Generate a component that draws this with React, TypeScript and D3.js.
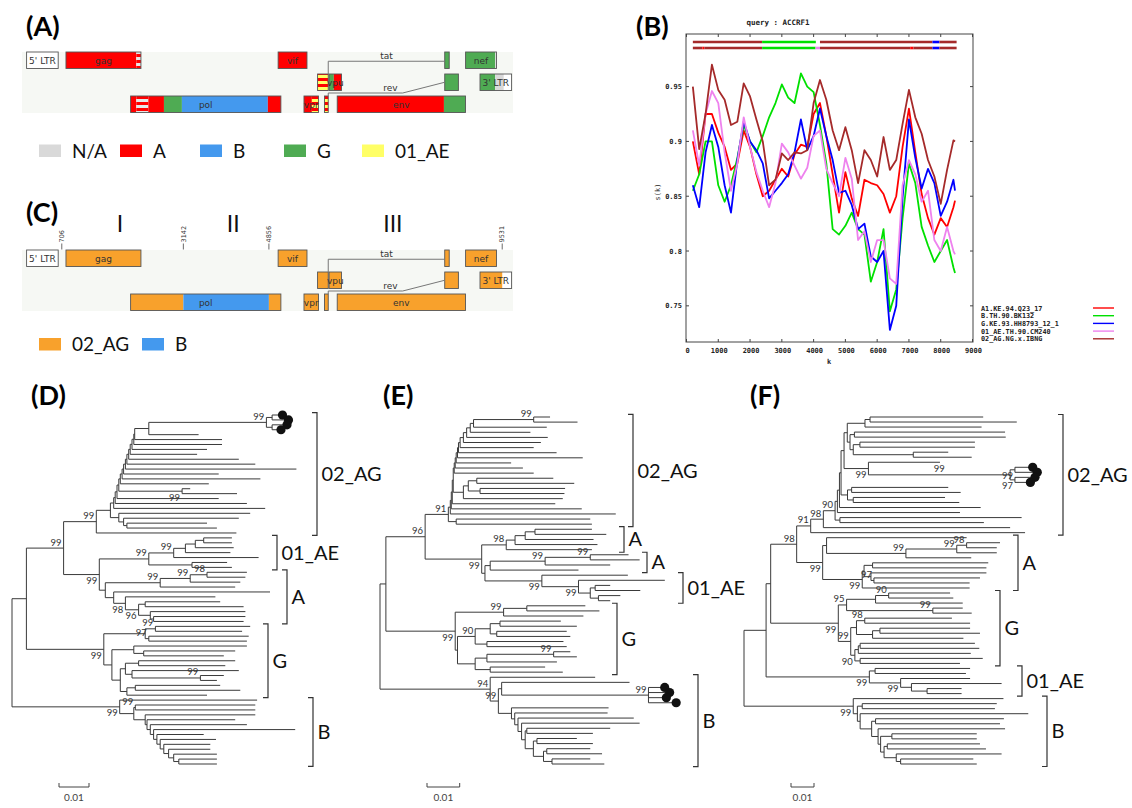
import React from 'react';
import * as d3 from 'd3';

// ---------- panels A / C : genome maps (HXB2 numbering) ----------
const genes = [
  { name: "5' LTR", start: 1, end: 634, row: 0 },
  { name: 'gag', start: 790, end: 2292, row: 0 },
  { name: 'vif', start: 5041, end: 5619, row: 0 },
  { name: '', start: 8379, end: 8469, row: 0 }, // tat exon 2
  { name: 'nef', start: 8797, end: 9417, row: 0 },
  { name: '', start: 5831, end: 6045, row: 1 }, // tat exon 1
  { name: 'vpu', start: 6062, end: 6310, row: 1 },
  { name: '', start: 8379, end: 8653, row: 1 }, // rev exon 2
  { name: "3' LTR", start: 9086, end: 9719, row: 1 },
  { name: 'pol', start: 2085, end: 5096, row: 2 },
  { name: 'vpr', start: 5559, end: 5850, row: 2 },
  { name: '', start: 5970, end: 6045, row: 2 }, // rev exon 1
  { name: 'env', start: 6225, end: 8795, row: 2 },
];

const mosaicA = [
  { from: 790, to: 2200, sub: 'A' },
  { from: 2200, to: 2440, sub: 'A+N/A' },
  { from: 2440, to: 2753, sub: 'A' },
  { from: 2753, to: 3113, sub: 'G' },
  { from: 3113, to: 4835, sub: 'B' },
  { from: 4835, to: 5717, sub: 'A' },
  { from: 5717, to: 6045, sub: 'A+01_AE' },
  { from: 6045, to: 6157, sub: 'G' },
  { from: 6157, to: 8363, sub: 'A' },
  { from: 8363, to: 9390, sub: 'G' },
  { from: 9390, to: 9560, sub: 'N/A' },
];

const mosaicC = [
  { from: 706, to: 3142, sub: '02_AG' },
  { from: 3142, to: 4856, sub: 'B' },
  { from: 4856, to: 9531, sub: '02_AG' },
];

const breakpointsC = [706, 3142, 4856, 9531];
const regionNames = [
  { label: 'I', pos: 1870 },
  { label: 'II', pos: 4140 },
  { label: 'III', pos: 7340 },
];
const legendA = ['N/A', 'A', 'B', 'G', '01_AE'];
const legendC = ['02_AG', 'B'];

const subColor: Record<string, string> = {
  'N/A': '#d9d9d9',
  A: '#ff0000',
  B: '#4499ee',
  G: '#4fab53',
  '01_AE': '#ffff66',
  '02_AG': '#f8a12c',
};
const stripes: Record<string, [string, string]> = {
  'A+N/A': ['#ff0000', '#e6e6e6'],
  'A+01_AE': ['#ff0000', '#ffff66'],
};

// ---------- panel B : bootscan ----------
const scanK = [200, 400, 600, 800, 1000, 1200, 1400, 1600, 1800, 2000, 2200, 2400, 2600, 2800, 3000, 3200, 3400, 3600, 3800, 4000, 4200, 4400, 4600, 4800, 5000, 5200, 5400, 5600, 5800, 6000, 6200, 6400, 6600, 6800, 7000, 7200, 7400, 7600, 7800, 8000, 8200, 8400, 8450];
const scanA1 = [0.9, 0.87, 0.925, 0.925, 0.908, 0.895, 0.874, 0.88, 0.91, 0.895, 0.87, 0.85, 0.855, 0.865, 0.875, 0.868, 0.888, 0.897, 0.895, 0.925, 0.935, 0.905, 0.87, 0.835, 0.872, 0.848, 0.832, 0.865, 0.862, 0.86, 0.852, 0.835, 0.85, 0.895, 0.93, 0.89, 0.852, 0.83, 0.815, 0.83, 0.822, 0.84, 0.846];
const scanB = [0.855, 0.87, 0.9, 0.9, 0.86, 0.845, 0.86, 0.885, 0.915, 0.9, 0.89, 0.905, 0.922, 0.935, 0.952, 0.94, 0.935, 0.962, 0.95, 0.945, 0.915, 0.88, 0.82, 0.815, 0.823, 0.835, 0.82, 0.815, 0.772, 0.79, 0.82, 0.745, 0.765, 0.83, 0.88, 0.862, 0.822, 0.805, 0.79, 0.8, 0.81, 0.785, 0.78];
const scanG = [0.86, 0.84, 0.89, 0.915, 0.895, 0.86, 0.835, 0.883, 0.918, 0.9, 0.892, 0.88, 0.848, 0.855, 0.862, 0.87, 0.89, 0.92, 0.892, 0.905, 0.93, 0.905, 0.883, 0.853, 0.855, 0.842, 0.82, 0.825, 0.795, 0.79, 0.8, 0.728, 0.75, 0.849, 0.92, 0.885, 0.857, 0.875, 0.862, 0.832, 0.845, 0.865, 0.855];
const scanAE = [0.91, 0.878, 0.925, 0.946, 0.935, 0.89, 0.855, 0.88, 0.922, 0.895, 0.872, 0.855, 0.84, 0.862, 0.898, 0.89, 0.878, 0.866, 0.876, 0.905, 0.91, 0.875, 0.862, 0.85, 0.885, 0.866, 0.81, 0.818, 0.79, 0.81, 0.81, 0.775, 0.77, 0.86, 0.883, 0.87, 0.845, 0.855, 0.81, 0.8, 0.822, 0.8, 0.797];
const scanAG = [0.95, 0.893, 0.925, 0.97, 0.947, 0.938, 0.915, 0.918, 0.953, 0.941, 0.92, 0.9, 0.86, 0.865, 0.889, 0.883, 0.89, 0.889, 0.892, 0.935, 0.956, 0.938, 0.91, 0.892, 0.913, 0.892, 0.862, 0.892, 0.883, 0.868, 0.904, 0.874, 0.883, 0.916, 0.947, 0.922, 0.907, 0.883, 0.868, 0.843, 0.874, 0.901, 0.9];
const scanRefs = ['A1.KE.94.Q23_17', 'B.TH.90.BK132', 'G.KE.93.HH8793_12_1', '01_AE.TH.90.CM240', '02_AG.NG.x.IBNG'];
const scanColors = ['#ff0000', '#00e000', '#0000ff', '#ee82ee', '#a52a2a'];
const scanBar1 = [
  { from: 200, to: 2380, c: 4 }, { from: 2380, to: 4070, c: 1 }, { from: 4200, to: 7740, c: 4 },
  { from: 7740, to: 7960, c: 2 }, { from: 7960, to: 8500, c: 4 },
];
const scanBar2 = [
  { from: 200, to: 500, c: 4 }, { from: 500, to: 560, c: 0 }, { from: 560, to: 2380, c: 4 },
  { from: 2380, to: 4060, c: 1 }, { from: 4060, to: 4200, c: 3 }, { from: 4200, to: 7040, c: 4 },
  { from: 7040, to: 7140, c: 0 }, { from: 7140, to: 7740, c: 4 }, { from: 7740, to: 7960, c: 2 },
  { from: 7960, to: 8500, c: 4 },
];

// ---------- panels D / E / F : trees (newick, number after ':' = distance from root, x0.001) ----------
const treeD_AG = '(((((((((((((((((((AG*:89,AG*:91):86.7,(AG*:90.5,AG*:88.5):86.7)99:84.8,AG:62.2):45.6,AG:70):40.9,AG:70):40.6,AG:65):40,AG:61.7):39.4,AG:75.6):38.9,AG:81.1):38.3,AG:94.8):37.8,AG:68.9):37.2,AG:82.8):36.7,AG:65.6):36.1,(AG:59.4,AG:75)99b:56.7):35.6,AG:68.9):35,AG:78.3):34.4,AG:84.4):33.9,(AG:79.4,(AG:75.6,(AG:65,AG:68.3):38.3):37.2):35.6):32.8,AG:74.8)99:28.1';
const treeD_AE = '(((((AE:73.3,AE:73.3):63.9,AE:73.9):61.1,AE:72.8):57.8,AE:82.2)99:53.9,(AE:71.7,AE:73.3):60)99:45.6';
const treeD_A = '((((A:78.3,A:77.8)98:65,A:76.1)99:59.4,A:74.4)99:49.4,(A:86,(A:67.8,((A:69.4,A:77.2):44.4,(A:77.8,(A:77.8,A:77.2):47.2):46.1)96b:42.2)98b:37.8):33.9):31.1';
const treeD_G = '(((G:79.4,G:76.7)99:47.8,(G:78.9,G:78.3)97:45.6):44.4,((G:78.3,(G:74.4,G:70.6):43.9):40.6,(((G:74.4,G:71.1):42.2,(G:75.6,(G:70.6,G:68.3)99:62.8):40):37.8,((G:69.4,G:76.1):41.1,G:65):38.3):36.1):33.3)99b:30.6';
const treeD_B = '(B:81.7,((B:81.1,B:81.1)99:41.1,(B:81.1,(B:74.4,(B:78.3,(B:94.4,(B:63.9,(B:68,(B:66.1,(B:66.1,(B:68.3,(B:68.3,B:68.3):55.6):53.9):52.2):50.6):49.4):48.3):47.2):46.1):45):44.4):40.6)99b:35.9';
const treeD = `(((${treeD_AG},(${treeD_AE},${treeD_A})99b:29.1)99:17.2,${treeD_G}):4.8,${treeD_B}):0`;

const treeE_AG = '((((((((((((((((AG:52,AG:60.4)99:47,AG:51):28.6,AG:46):27.6,AG:51.3):26.5,AG:49.2):25.5,AG:47):24.5,AG:54):24,AG:62):23.7,AG:40.1):23.3,AG:43.7):23,AG:47):22.7,(((AG:53,AG:59.4):29.6,(AG:56.6,AG:56.4):30.6):27,AG:55.9):25.5):22.4,AG:53.6):22.1,AG:61.7):21.8,AG:72.1):21.5,(AG:64.3,AG:64.8):23.3)91:20.9';
const treeE_A1 = '((((A1:64.8,A1:69.2):47.4,A1:65.3):44.4,A1:66.5):41.3,A1:64.8)98:38.6';
const treeE_A2 = '(((A2:76,A2:79.4)99:64.3,A2:70.4)99:50.5,A2:60.7):33.7';
const treeE_AE = '(AE:75.8,(AE:87.1,((AE:70.4,AE:79.6):65.8,(AE:73.5,AE:70.4):66.8):64.3)99b:60.7)99b:49.5';
const treeE_G = '(((G:62.8,G:67.1):44.9,G:62.2)99:37.8,((((G:55.3,G:60.2):36.7,(G:57.1,G:58.2):35.7):33.7,(G:56.1,G:57.1):32.7)90:29.1,(((G:58.2,G:60.2)99:53.1,G:54.1):32.7,(G:50.5,G:55.9):33.7):29.1):23.7)99b:23';
const treeE_B = '(B:65.8,((B:76.3,(B*:86,B*:87.5,B*:86.5,B*:89.5)99:82.1):37.2,(B:69.9,(B:69.6,(B:77.6,(B:79.4,((B:70.4,B:65.1):44.9,((B:60.2,B:65.1):48,((B:64.3,B:67.9):51,(B:64.3,B:68.6):52.6):50):46.9):44.4):43.3):42.2):41.2):40.2)99:36.2)94:33.7';
const treeE = `(((${treeE_AG},(${treeE_A1},(${treeE_A2},${treeE_AE}):32.1)99b:31.1)96:13.8,${treeE_G}):1.8,${treeE_B}):0`;

const treeF_AGtop = '(((AG:104,AG:118.6):54.8,AG:103.3):52.6,((AG:113.5,AG:113.8):48,((AG:100.4,AG:100.4):50.4,(AG:88.8,AG:99):73.6):47.5):46.1):44.9';
const treeF_query = '(AG:85.2,((AG*:124,AG*:126)99b:117.8,(AG*:125,AG*:123)97b:117.8)99m:115.7)99b:54.1';
const treeF_AGmid = '((AG:88.8,AG:94.2):46.8,(AG:87.4,AG:93.6):47.5):45';
const treeF_AG = `((((((${treeF_AGtop},${treeF_query}):43.5,${treeF_AGmid}):42.2,AG:102.9):41.5,AG:93.9):40.6,(AG:120.7,AG:104.3):41.7)90:39.6,AG:115.7)98:34.5`;
const treeF_A = '((A:96.8,(((A:111.3,A:109.9)98:96.8,A:109.9)99:92.5,A:98.8)99:70.4):35.9,(((A:106.2,A:105.4):55.9,(A:105.4,(A:102.6,A:98.1)97:56.5):55.2):52.2,A:98.1)99b:51.4)99b:34.2';
const treeF_G = '((((G:89.6,G:91)90:62.9,G:95.1):57.2,(G:95.1,G:99)99:82.1)95:44.6,(((G:90.4,G:98.3)98:52.5,((G:98.3,G:102.6):59.1,G:95.4):55.9):48.9,(((G:100.4,G:102.3):50.5,G:98.6):49.7,(G:103.8,G:93.9):50.5)90b:48.2)99:46.4)99b:41';
const treeF_AE = '((AE:98.3,AE:96.5):57,(AE:98.3,(AE:112,(AE:94.6,AE:94.6):79.6):72.8)99b:68.1)99b:54.5';
const treeF_B = '(B:112.8,((B:109.9,B:109.1):51.4,(B:123.6,((B:113,B:111.3):57.2,(B:113.5,((B:101.2,B:101.2):64.3,((B:102.6,B:105.2):62.3,(B:112,(B:99.7,B:101.2):68.1):66.2):60.9):59.4):58.3):55.5):50.5):49.3)99b:47.5';
const treeF = `(((((${treeF_AG},AG:122.2)91:29,${treeF_A})98:22.9,${treeF_G}):11.6,${treeF_AE}):9.6,${treeF_B}):0`;

const bracketsD = [
  { clade: 'AG', label: '02_AG', x: 317 }, { clade: 'AE', label: '01_AE', x: 277 },
  { clade: 'A', label: 'A', x: 287 }, { clade: 'G', label: 'G', x: 268 }, { clade: 'B', label: 'B', x: 313 },
];
const bracketsE = [
  { clade: 'AG', label: '02_AG', x: 633 }, { clade: 'A1', label: 'A', x: 624 }, { clade: 'A2', label: 'A', x: 647 },
  { clade: 'AE', label: '01_AE', x: 683 }, { clade: 'G', label: 'G', x: 617 }, { clade: 'B', label: 'B', x: 698 },
];
const bracketsF = [
  { clade: 'AG', label: '02_AG', x: 1063 }, { clade: 'A', label: 'A', x: 1018 }, { clade: 'G', label: 'G', x: 1000 },
  { clade: 'AE', label: '01_AE', x: 1022 }, { clade: 'B', label: 'B', x: 1047 },
];

const SANS = 'Lato, "Open Sans", sans-serif';
const SMALL = '"DejaVu Sans", sans-serif';
const MONO = '"DejaVu Sans Mono", monospace';

const gx = d3.scaleLinear().domain([1, 9719]).range([26.6, 511.6]);

function fillOf(sub: string) {
  if (stripes[sub]) return `url(#st-${sub.replace(/[^A-Za-z0-9]/g, '')})`;
  return subColor[sub];
}

function GeneMap({ top, mosaic }: { top: number; mosaic: { from: number; to: number; sub: string }[] }) {
  const rowY = [top, top + 22, top + 44];
  const h = 16.5;
  const mid = (r: number) => rowY[r] + h / 2;
  return (
    <g>
      <rect x={22} y={top} width={491} height={61} fill="#f6f8f4" />
      {genes.map((g, gi) => {
        const y = rowY[g.row];
        const x0 = gx(g.start);
        const x1 = gx(g.end);
        return (
          <g key={gi}>
            <rect x={x0} y={y} width={x1 - x0} height={h} fill="#fff" />
            {mosaic
              .filter((m) => m.to > g.start && m.from < g.end)
              .map((m, mi) => {
                const a = Math.max(m.from, g.start);
                const b = Math.min(m.to, g.end);
                return <rect key={mi} x={gx(a)} y={y} width={gx(b) - gx(a)} height={h} fill={fillOf(m.sub)} />;
              })}
            <rect x={x0} y={y} width={x1 - x0} height={h} fill="none" stroke="#555" strokeWidth={0.9} />
            {g.name && (
              <text x={(x0 + x1) / 2} y={y + h / 2 + 3.3} textAnchor="middle" fontSize={9} fontFamily={SMALL} fill="#333">
                {g.name}
              </text>
            )}
          </g>
        );
      })}
      <path d={`M${gx(6045)},${rowY[1]} V${mid(0) + 1} H${gx(8379)}`} fill="none" stroke="#777" strokeWidth={1} />
      <text x={gx(7213)} y={top + 6.5} textAnchor="middle" fontSize={9} fontFamily={SMALL} fill="#333">tat</text>
      <path d={`M${gx(6045)},${rowY[2]} V${rowY[2] - 3} H${gx(7537)} L${gx(8379)},${mid(1)}`} fill="none" stroke="#777" strokeWidth={1} />
      <text x={gx(7290)} y={top + 38.5} textAnchor="middle" fontSize={9} fontFamily={SMALL} fill="#333">rev</text>
    </g>
  );
}

function Legend({ items, y, xs }: { items: string[]; y: number; xs: number[] }) {
  return (
    <g>
      {items.map((it, i) => (
        <g key={it}>
          <rect x={xs[i]} y={y} width={22} height={12.5} fill={subColor[it]} />
          <text x={xs[i] + 33} y={y + 13} fontSize={19} fontFamily={SANS} fill="#111">{it}</text>
        </g>
      ))}
    </g>
  );
}

function Bootscan() {
  const kx = d3.scaleLinear().domain([0, 9000]).range([686.5, 972.5]);
  const sy = d3.scaleLinear().domain([0.717, 0.998]).range([342, 34]);
  const series = [scanA1, scanB, scanG, scanAE, scanAG];
  const line = d3.line<number>().x((_, i) => kx(scanK[i])).y((v) => sy(v));
  const fmt = d3.format('.2~f');
  const legendY = [308, 315.7, 323.4, 331.1, 338.8];
  return (
    <g>
      <text x={778} y={25} textAnchor="middle" fontSize={7.5} fontFamily={MONO} fontWeight="bold" fill="#222">query : ACCRF1</text>
      {[scanBar1, scanBar2].map((bar, bi) =>
        bar.map((s, si) => (
          <line key={`${bi}-${si}`} x1={kx(s.from)} x2={kx(s.to)} y1={bi === 0 ? 42 : 48} y2={bi === 0 ? 42 : 48}
            stroke={scanColors[s.c]} strokeWidth={2.6} />
        ))
      )}
      {series.map((s, i) => (
        <path key={i} d={line(s) || ''} fill="none" stroke={scanColors[i]} strokeWidth={1.8} strokeLinejoin="round" />
      ))}
      <rect x={686} y={34} width={287} height={308} fill="none" stroke="#444" strokeWidth={1} />
      {kx.ticks(9).map((t) => (
        <g key={t}>
          <line x1={kx(t)} x2={kx(t)} y1={342} y2={339} stroke="#444" />
          <line x1={kx(t)} x2={kx(t)} y1={34} y2={37} stroke="#444" />
          <text x={kx(t) + 1} y={352.5} textAnchor="middle" fontSize={7} fontFamily={MONO} fontWeight="bold" fill="#222">{t}</text>
        </g>
      ))}
      {sy.ticks(5).map((t) => (
        <g key={t}>
          <line x1={686} x2={689} y1={sy(t)} y2={sy(t)} stroke="#444" />
          <line x1={973} x2={970} y1={sy(t)} y2={sy(t)} stroke="#444" />
          <text x={682} y={sy(t) + 2.5} textAnchor="end" fontSize={7} fontFamily={MONO} fontWeight="bold" fill="#222">{fmt(t)}</text>
        </g>
      ))}
      <text x={829} y={364} textAnchor="middle" fontSize={7} fontFamily={MONO} fontWeight="bold" fill="#222">k</text>
      <text transform="translate(660,192) rotate(-90)" textAnchor="middle" fontSize={7} fontFamily={MONO} fill="#222">s(k)</text>
      {scanRefs.map((r, i) => (
        <g key={r}>
          <text x={981} y={legendY[i] + 2.5} fontSize={6.8} fontFamily={MONO} fontWeight="bold" fill="#222">{r}</text>
          <line x1={1093} x2={1114} y1={legendY[i]} y2={legendY[i]} stroke={scanColors[i]} strokeWidth={1.4} />
        </g>
      ))}
    </g>
  );
}

type TN = { name: string; depth: number; children?: TN[] };

function parseNewick(src: string): TN {
  const s = src.replace(/\s+/g, '');
  let i = 0;
  const read = (): TN => {
    const n: TN = { name: '', depth: 0 };
    if (s[i] === '(') {
      n.children = [];
      i++;
      n.children.push(read());
      while (s[i] === ',') {
        i++;
        n.children.push(read());
      }
      i++;
    }
    let tok = '';
    while (i < s.length && !'(),:'.includes(s[i])) tok += s[i++];
    n.name = tok;
    if (s[i] === ':') {
      i++;
      let num = '';
      while (i < s.length && !'(),'.includes(s[i])) num += s[i++];
      n.depth = parseFloat(num);
    }
    return n;
  };
  return read();
}

function Tree({ src, x0, unit, top, bottom, brackets, barX }: any) {
  const root: any = d3.hierarchy(parseNewick(src));
  const leaves: any[] = root.leaves();
  const ly = d3.scaleLinear().domain([0, leaves.length - 1]).range([top, bottom]);
  const dx = d3.scaleLinear().domain([0, 10]).range([x0, x0 + unit * 10]);
  const step = (bottom - top) / (leaves.length - 1);
  leaves.forEach((l, i) => (l.py = ly(i)));
  root.eachAfter((n: any) => {
    if (n.children) n.py = (n.children[0].py + n.children[n.children.length - 1].py) / 2;
  });
  root.each((n: any) => (n.px = dx(n.data.depth)));
  const nodes: any[] = root.descendants();
  const stroke = '#3a3a3a';
  return (
    <g>
      {nodes.filter((n) => n.parent).map((n, i) => (
        <line key={'h' + i} x1={n.parent.px} x2={n.px} y1={n.py} y2={n.py} stroke={stroke} strokeWidth={1} />
      ))}
      {nodes.filter((n) => n.children).map((n, i) => (
        <line key={'v' + i} x1={n.px} x2={n.px} y1={n.children[0].py} y2={n.children[n.children.length - 1].py} stroke={stroke} strokeWidth={1} />
      ))}
      {nodes.filter((n) => n.children && /^\d+/.test(n.data.name)).map((n, i) => {
        const m = n.data.name.match(/^(\d+)([abm]?)$/);
        const pos = m[2] || 'a';
        let x = n.px - 2, y = n.py - 2.5, anchor = 'end';
        if (pos === 'b') y = n.py + 9.5;
        if (pos === 'm') {
          x = (n.parent.px + n.px) / 2;
          anchor = 'middle';
        }
        return (
          <text key={'l' + i} x={x} y={y} textAnchor={anchor} fontSize={9.5} fontFamily={SANS} fill="#333">{m[1]}</text>
        );
      })}
      {leaves.filter((l) => l.data.name.endsWith('*')).map((l, i) => (
        <circle key={'q' + i} cx={l.px + 3.5} cy={l.py} r={4.6} fill="#111" />
      ))}
      {brackets.map((b: any) => {
        const ys = leaves.filter((l) => l.data.name.replace('*', '') === b.clade).map((l) => l.py);
        const y0 = (d3.min(ys) as number) - step / 2;
        const y1 = (d3.max(ys) as number) + step / 2;
        return (
          <g key={b.clade}>
            <path d={`M${b.x - 5},${y0} H${b.x} V${y1} H${b.x - 5}`} fill="none" stroke="#333" strokeWidth={1.2} />
            <text x={b.x + 4.5} y={(y0 + y1) / 2 + 7} fontSize={20} fontFamily={SANS} fill="#111">{b.label}</text>
          </g>
        );
      })}
      <path d={`M${barX},783 V787 H${barX + unit * 10} V783`} fill="none" stroke="#444" strokeWidth={1} />
      <text x={barX + unit * 5} y={801} textAnchor="middle" fontSize={10} fontFamily={SANS} fill="#444">0.01</text>
    </g>
  );
}

export default function App() {
  const panelLabel = (t: string, x: number, y: number) => (
    <text x={x} y={y} fontSize={27} fontWeight="bold" fontFamily={SANS} fill="#000">{t}</text>
  );
  return (
    <svg width={1132} height={808} style={{ position: 'absolute', left: 0, top: 0, background: '#fff' }}>
      <defs>
        {Object.entries(stripes).map(([k, [c1, c2]]) => (
          <pattern key={k} id={`st-${k.replace(/[^A-Za-z0-9]/g, '')}`} width={4} height={6} patternUnits="userSpaceOnUse">
            <rect width={4} height={6} fill={c1} />
            <rect y={3} width={4} height={3} fill={c2} />
          </pattern>
        ))}
      </defs>
      <rect width={1132} height={808} fill="#fff" />

      {panelLabel('(A)', 26, 36)}
      <GeneMap top={52} mosaic={mosaicA} />
      <Legend items={legendA} y={144.5} xs={[39, 120, 200, 284, 362]} />

      {panelLabel('(C)', 26, 222)}
      {regionNames.map((r) => (
        <text key={r.label} x={gx(r.pos)} y={232} textAnchor="middle" fontSize={23} fontFamily={SANS} fill="#111">{r.label}</text>
      ))}
      {breakpointsC.map((p) => (
        <g key={p}>
          <line x1={gx(p)} x2={gx(p)} y1={243.5} y2={249.5} stroke="#444" strokeWidth={0.8} />
          <text transform={`translate(${gx(p) + 2.2},242.5) rotate(-90)`} fontSize={6.5} fontFamily={SMALL} fill="#333">{p}</text>
        </g>
      ))}
      <GeneMap top={250} mosaic={mosaicC} />
      <Legend items={legendC} y={338} xs={[39, 142]} />

      {panelLabel('(B)', 636, 36)}
      <Bootscan />

      {panelLabel('(D)', 31, 405)}
      <Tree src={treeD} x0={12} unit={3} top={415} bottom={764} brackets={bracketsD} barX={59} />
      {panelLabel('(E)', 383, 405)}
      <Tree src={treeE} x0={380} unit={3.27} top={417} bottom={764} brackets={bracketsE} barX={427} />
      {panelLabel('(F)', 750, 405)}
      <Tree src={treeF} x0={744} unit={2.3} top={417} bottom={764} brackets={bracketsF} barX={791} />
    </svg>
  );
}
